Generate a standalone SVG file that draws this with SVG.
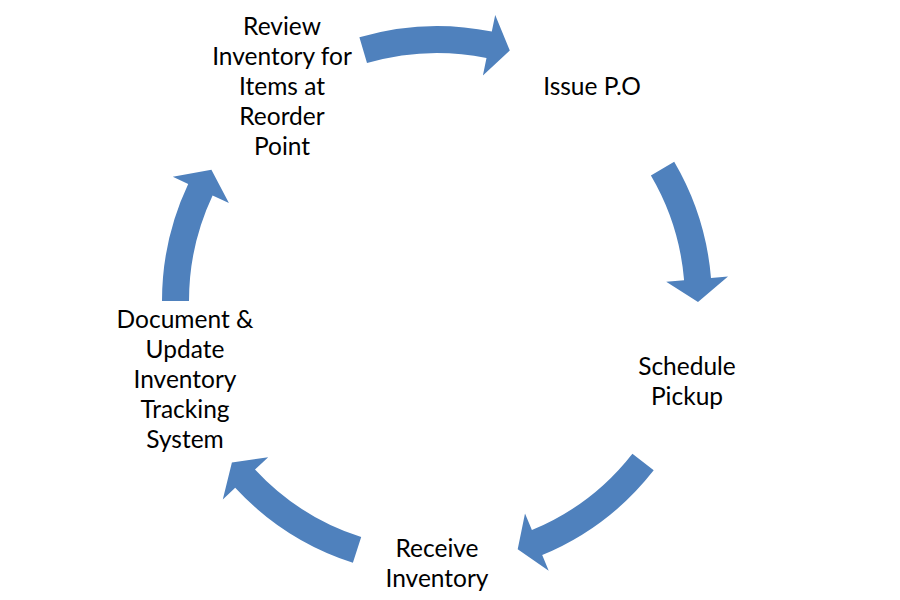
<svg xmlns="http://www.w3.org/2000/svg" width="900" height="600" viewBox="0 0 900 600">
<style>
.arrow{fill:#4F81BD;stroke:none}
.lbl{font-family:Lato,"Liberation Sans",sans-serif;font-size:24.5px;fill:#000;text-anchor:middle}
</style>
<rect width="900" height="600" fill="#fff"/>
<g id="connectors">
<path class="arrow" d="M359.4,37.2 A275,275 0 0 1 491.8,31.5 L495.2,14.9 L509.8,50.4 L482.9,75.6 L486.5,58.0 A248,248 0 0 0 367.0,63.1 Z"/>
<path class="arrow" d="M674.2,161.8 A275,275 0 0 1 711.0,278.0 L728.0,276.6 L698.0,301.9 L666.2,281.7 L684.1,280.2 A248,248 0 0 0 650.9,175.5 Z"/>
<path class="arrow" d="M653.7,470.3 A275,275 0 0 1 542.2,555.1 L548.7,570.8 L517.7,549.2 L525.0,513.5 L531.9,530.1 A248,248 0 0 0 632.4,453.7 Z"/>
<path class="arrow" d="M352.9,562.8 A275,275 0 0 1 235.2,487.8 L222.8,499.4 L231.9,462.4 L268.2,457.3 L255.0,469.5 A248,248 0 0 0 361.2,537.1 Z"/>
<path class="arrow" d="M162,301 A275,275 0 0 1 188.2,183.9 L172.8,176.7 L211.4,169.7 L228.9,203.1 L212.6,195.4 A248,248 0 0 0 189,301 Z"/>
</g>
<g id="node1">
<text class="lbl" x="282" y="35">Review</text>
<text class="lbl" x="282" y="65">Inventory for</text>
<text class="lbl" x="282" y="95">Items at</text>
<text class="lbl" x="282" y="125">Reorder</text>
<text class="lbl" x="282" y="155">Point</text>
</g>
<g id="node2">
<text class="lbl" x="592" y="95">Issue P.O</text>
</g>
<g id="node3">
<text class="lbl" x="687" y="375">Schedule</text>
<text class="lbl" x="687" y="405">Pickup</text>
</g>
<g id="node4">
<text class="lbl" x="437" y="557">Receive</text>
<text class="lbl" x="437" y="587">Inventory</text>
</g>
<g id="node5">
<text class="lbl" x="185" y="328">Document &amp;</text>
<text class="lbl" x="185" y="358">Update</text>
<text class="lbl" x="185" y="388">Inventory</text>
<text class="lbl" x="185" y="418">Tracking</text>
<text class="lbl" x="185" y="448">System</text>
</g>
</svg>
